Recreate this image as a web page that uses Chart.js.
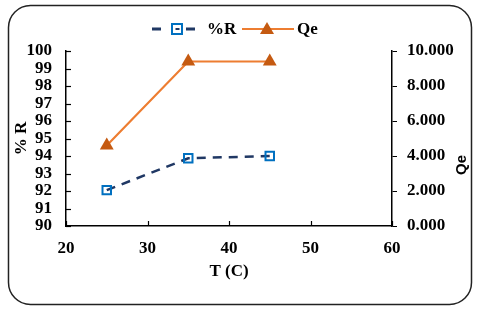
<!DOCTYPE html>
<html>
<head>
<meta charset="utf-8">
<script src="https://cdn.jsdelivr.net/npm/chart.js@4/dist/chart.umd.min.js"></script>
<style>
html,body{margin:0;padding:0;background:#fff;}
canvas{display:block;}
</style>
</head>
<body>
<canvas id="c" width="480" height="310"></canvas>
<script>
// Data
const temperatures = [25, 35, 45];
const removalPct = [92.05, 93.87, 94.0];
const qeValues = [4.6, 9.4, 9.4];
const xTicks = [20, 30, 40, 50, 60];
const leftTicks = [90, 91, 92, 93, 94, 95, 96, 97, 98, 99, 100];
const rightTicks = [0, 2, 4, 6, 8, 10];
const seriesNames = ['%R', 'Qe'];
const axisTitles = {x: 'T (C)', left: '% R', right: 'Qe'};

const SERIF = '"Liberation Serif", "Times New Roman", serif';
const SANS = '"Liberation Sans", Arial, sans-serif';
const NAVY = '#203864';
const BLUE = '#0070C0';
const ORANGE = '#ED7D31';
const DORANGE = '#C55A11';

const tickFont = {family: SERIF, size: 17, weight: 'bold'};

const decorPlugin = {
  id: 'decor',
  afterDraw(chart) {
    const ctx = chart.ctx;
    const ca = chart.chartArea;
    ctx.save();
    // inner tick marks on left and bottom axes
    ctx.strokeStyle = '#000';
    ctx.lineWidth = 1.2;
    const ys = chart.scales.y;
    leftTicks.forEach(v => {
      const py = Math.round(ys.getPixelForValue(v)) + 0.5;
      ctx.beginPath(); ctx.moveTo(ca.left, py); ctx.lineTo(ca.left + 5, py); ctx.stroke();
    });
    const xs = chart.scales.x;
    xTicks.forEach(v => {
      const px = Math.round(xs.getPixelForValue(v)) + 0.5;
      ctx.beginPath(); ctx.moveTo(px, ca.bottom); ctx.lineTo(px, ca.bottom - 5); ctx.stroke();
    });

    // rounded frame
    ctx.strokeStyle = '#222';
    ctx.lineWidth = 1.5;
    ctx.beginPath();
    ctx.roundRect(8.5, 5.5, 463, 299, 22);
    ctx.stroke();

    // legend
    const ly = 29;
    ctx.strokeStyle = NAVY;
    ctx.lineWidth = 3;
    ctx.beginPath();
    ctx.moveTo(152, ly); ctx.lineTo(161, ly);
    ctx.moveTo(186, ly); ctx.lineTo(195, ly);
    ctx.stroke();
    ctx.strokeStyle = BLUE;
    ctx.lineWidth = 2;
    ctx.fillStyle = '#fff';
    ctx.fillRect(172, ly - 5, 10, 10);
    ctx.strokeRect(172, ly - 5, 10, 10);
    ctx.fillStyle = NAVY;
    ctx.fillRect(175.5, ly - 1, 4, 2);
    ctx.fillStyle = '#000';
    ctx.font = 'bold 17px ' + SERIF;
    ctx.textBaseline = 'middle';
    ctx.textAlign = 'left';
    ctx.fillText(seriesNames[0], 207, ly + 1);
    ctx.strokeStyle = ORANGE;
    ctx.lineWidth = 2;
    ctx.beginPath();
    ctx.moveTo(242, ly); ctx.lineTo(294, ly);
    ctx.stroke();
    ctx.fillStyle = DORANGE;
    ctx.beginPath();
    ctx.moveTo(267, ly - 7); ctx.lineTo(274, ly + 5); ctx.lineTo(260, ly + 5);
    ctx.closePath(); ctx.fill();
    ctx.fillStyle = '#000';
    ctx.fillText(seriesNames[1], 297, ly + 1);

    // right axis title (reads bottom to top)
    ctx.translate(462, 165);
    ctx.rotate(-Math.PI / 2);
    ctx.font = 'bold 15px ' + SANS;
    ctx.textAlign = 'center';
    ctx.textBaseline = 'middle';
    ctx.fillText(axisTitles.right, 0, 0);
    ctx.restore();
  }
};

const border = {display: true, color: '#000', width: 1.5};
const noGrid = {display: false, drawTicks: false, tickLength: 0};

new Chart(document.getElementById('c'), {
  type: 'line',
  data: {
    datasets: [
      {
        label: seriesNames[0],
        data: temperatures.map((t, i) => ({x: t, y: removalPct[i]})),
        yAxisID: 'y',
        borderColor: NAVY,
        borderWidth: 2.5,
        borderDash: [9, 7],
        pointStyle: 'rect',
        pointRadius: 6,
        pointBorderWidth: 2,
        pointBorderColor: BLUE,
        pointBackgroundColor: 'rgba(255,255,255,0)',
        tension: 0,
        fill: false
      },
      {
        label: seriesNames[1],
        data: temperatures.map((t, i) => ({x: t, y: qeValues[i]})),
        yAxisID: 'y1',
        borderColor: ORANGE,
        borderWidth: 2.2,
        pointStyle: 'triangle',
        pointRadius: 8,
        pointBorderWidth: 0,
        pointBorderColor: DORANGE,
        pointBackgroundColor: DORANGE,
        tension: 0,
        fill: false
      }
    ]
  },
  options: {
    responsive: false,
    animation: false,
    devicePixelRatio: 1,
    layout: {padding: {left: 8, top: 51, right: 0, bottom: 27}},
    plugins: {legend: {display: false}, tooltip: {enabled: false}},
    scales: {
      x: {
        type: 'linear', position: 'bottom', min: 20, max: 60,
        afterBuildTicks: s => { s.ticks = xTicks.map(v => ({value: v})); },
        ticks: {font: tickFont, color: '#000', padding: 12, maxRotation: 0, autoSkip: false},
        grid: noGrid,
        border: border,
        title: {display: true, text: axisTitles.x, font: {family: SERIF, size: 17, weight: 'bold'}, color: '#000', padding: {top: 0, bottom: 1}},
        afterFit: s => { s.height = 57; }
      },
      y: {
        type: 'linear', position: 'left', min: 90, max: 100,
        afterBuildTicks: s => { s.ticks = leftTicks.map(v => ({value: v})); },
        ticks: {font: tickFont, color: '#000', padding: 14, autoSkip: false},
        grid: noGrid,
        border: border,
        title: {display: true, text: axisTitles.left, font: {family: SERIF, size: 17, weight: 'bold'}, color: '#000', padding: {top: 3, bottom: 0}},
        afterFit: s => { s.width = 58; }
      },
      y1: {
        type: 'linear', position: 'right', min: 0, max: 10,
        afterBuildTicks: s => { s.ticks = rightTicks.map(v => ({value: v})); },
        ticks: {font: tickFont, color: '#000', padding: 10, autoSkip: false, callback: v => Number(v).toFixed(3)},
        grid: {display: true, drawOnChartArea: false, drawTicks: true, tickLength: 5, color: '#000', lineWidth: 1},
        border: border,
        afterFit: s => { s.width = 88; }
      }
    }
  },
  plugins: [decorPlugin]
});
</script>
</body>
</html>
